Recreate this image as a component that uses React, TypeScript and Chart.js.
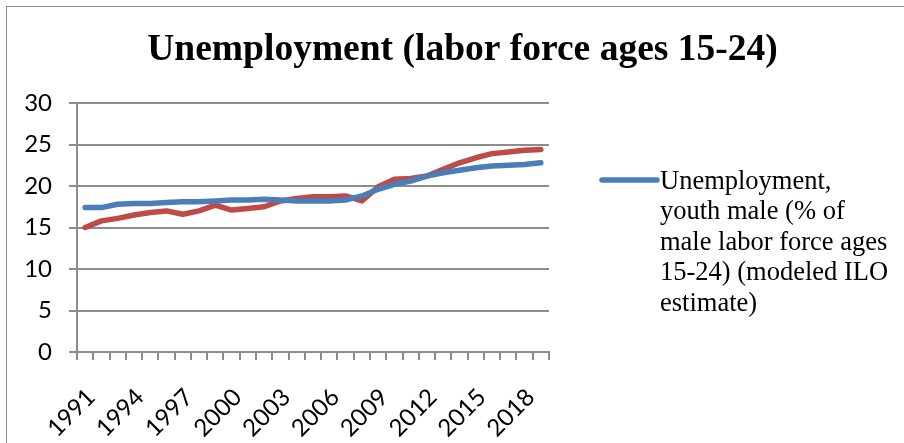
import React, { useEffect, useRef } from "react";
import { Chart, registerables } from "chart.js";

Chart.register(...registerables);

const years = [
  "1991", "1992", "1993", "1994", "1995", "1996", "1997", "1998", "1999", "2000",
  "2001", "2002", "2003", "2004", "2005", "2006", "2007", "2008", "2009", "2010",
  "2011", "2012", "2013", "2014", "2015", "2016", "2017", "2018", "2019",
];

const maleYouth = [
  17.4, 17.4, 17.8, 17.9, 17.9, 18.0, 18.1, 18.1, 18.2, 18.3,
  18.3, 18.4, 18.3, 18.2, 18.2, 18.2, 18.3, 18.8, 19.6, 20.2,
  20.6, 21.2, 21.6, 21.9, 22.2, 22.4, 22.5, 22.6, 22.8,
];

const femaleYouth = [
  15.0, 15.8, 16.1, 16.5, 16.8, 17.0, 16.6, 17.0, 17.7, 17.1,
  17.3, 17.5, 18.2, 18.5, 18.7, 18.7, 18.8, 18.2, 19.9, 20.8,
  20.9, 21.2, 22.0, 22.8, 23.4, 23.9, 24.1, 24.3, 24.4,
];

const xTickLabels = ["1991", "1994", "1997", "2000", "2003", "2006", "2009", "2012", "2015", "2018"];

const titleText = "Unemployment (labor force ages 15-24)";
const maleLabel = "Unemployment, youth male (% of male labor force ages 15-24) (modeled ILO estimate)";
const femaleLabel = "Unemployment, youth female (% of female labor force ages 15-24) (modeled ILO estimate)";
const legendLines = ["Unemployment,", "youth male (% of", "male labor force ages", "15-24) (modeled ILO", "estimate)"];

const BLUE = "#4A7EBB";
const RED = "#BE4B48";
const GRID = "#8c8c8c";

const decorPlugin = {
  id: "decor",
  beforeDraw(chart: any) {
    const ctx = chart.ctx;
    ctx.save();
    ctx.fillStyle = "#ffffff";
    ctx.fillRect(0, 0, chart.width, chart.height);
    ctx.strokeStyle = "#8a8a8a";
    ctx.lineWidth = 1;
    ctx.strokeRect(6.5, 6.5, chart.width - 8, chart.height + 20);
    ctx.restore();
  },
  afterDraw(chart: any) {
    const ctx = chart.ctx;
    ctx.save();
    ctx.fillStyle = "#000";
    ctx.font = "bold 37.5px 'Liberation Serif', 'Times New Roman', serif";
    ctx.textAlign = "center";
    ctx.textBaseline = "alphabetic";
    const cx = (6.5 + chart.width - 1.5) / 2;
    ctx.fillText(titleText, cx, 59.5);
    const area = chart.chartArea;
    const lx0 = area.right + 53;
    const lx1 = area.right + 108;
    const ly = 180;
    ctx.strokeStyle = BLUE;
    ctx.lineWidth = 5.5;
    ctx.lineCap = "round";
    ctx.beginPath();
    ctx.moveTo(lx0, ly);
    ctx.lineTo(lx1, ly);
    ctx.stroke();
    ctx.font = "26.5px 'Liberation Serif', 'Times New Roman', serif";
    ctx.textAlign = "left";
    const tx = lx1 + 3;
    legendLines.forEach((line, i) => {
      ctx.fillText(line, tx, 188.5 + i * 30.5);
    });
    ctx.restore();
  },
};

export default function App() {
  const ref = useRef<HTMLCanvasElement | null>(null);

  useEffect(() => {
    if (!ref.current) return;
    const chart = new Chart(ref.current, {
      type: "line",
      data: {
        labels: years,
        datasets: [
          {
            label: maleLabel,
            data: maleYouth,
            borderColor: BLUE,
            backgroundColor: BLUE,
            borderWidth: 5.5,
            pointRadius: 0,
            tension: 0,
            borderCapStyle: "round",
            borderJoinStyle: "round",
            fill: false,
          },
          {
            label: femaleLabel,
            data: femaleYouth,
            borderColor: RED,
            backgroundColor: RED,
            borderWidth: 5.5,
            pointRadius: 0,
            tension: 0,
            borderCapStyle: "round",
            borderJoinStyle: "round",
            fill: false,
          },
        ],
      },
      options: {
        animation: false,
        responsive: false,
        maintainAspectRatio: false,
        layout: { padding: { left: 0, top: 103, right: 371, bottom: 0 } },
        plugins: {
          legend: { display: false },
          title: { display: false },
          tooltip: { enabled: false },
        },
        scales: {
          x: {
            type: "category",
            offset: true,
            afterFit(scale: any) {
              scale.height = 91;
            },
            grid: {
              display: true,
              drawOnChartArea: false,
              drawTicks: true,
              tickLength: 8,
              offset: true,
              color: GRID,
              lineWidth: 2,
            },
            border: { display: true, color: GRID, width: 2 },
            ticks: {
              autoSkip: false,
              maxRotation: 45,
              minRotation: 45,
              padding: 23,
              labelOffset: 6,
              color: "#000",
              font: { family: "Lato, 'Open Sans', sans-serif", size: 24 },
              callback(_v: any, index: number) {
                const y = years[index];
                return xTickLabels.includes(y) ? y : "";
              },
            },
          },
          y: {
            min: 0,
            max: 30,
            afterFit(scale: any) {
              scale.width = 77;
            },
            grid: {
              color: GRID,
              lineWidth: 2,
              drawTicks: true,
              tickLength: 8,
            },
            border: { display: true, color: GRID, width: 2 },
            ticks: {
              stepSize: 5,
              padding: 17,
              color: "#000",
              font: { family: "Lato, 'Open Sans', sans-serif", size: 24 },
            },
          },
        },
      },
      plugins: [decorPlugin],
    } as any);
    return () => chart.destroy();
  }, []);

  return (
    <div
      style={{
        position: "fixed",
        left: 0,
        top: 0,
        width: 904,
        height: 443,
        overflow: "hidden",
        background: "#fff",
      }}
    >
      <canvas ref={ref} width={920} height={443} style={{ display: "block" }} />
    </div>
  );
}
